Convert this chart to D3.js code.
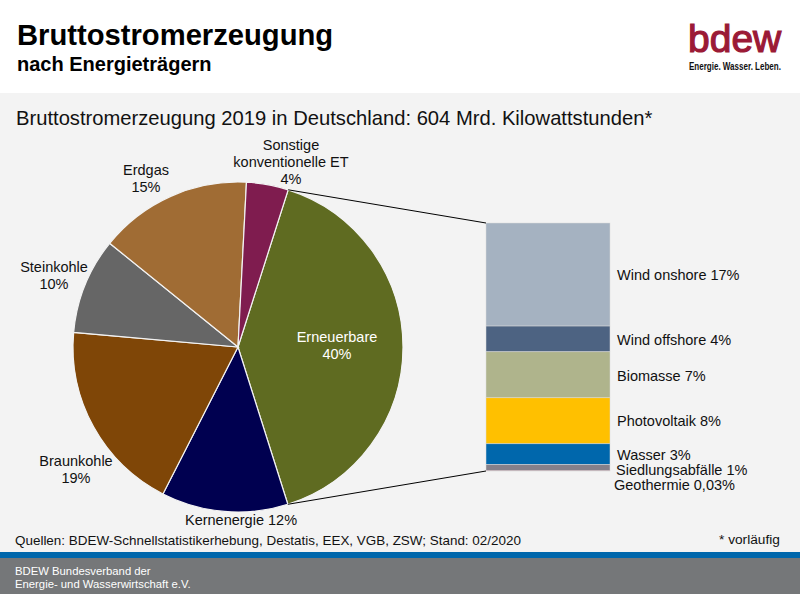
<!DOCTYPE html>
<html>
<head>
<meta charset="utf-8">
<script src="https://d3js.org/d3.v7.min.js"></script>
<style>
html, body { margin: 0; padding: 0; background: #fff; }
svg { display: block; }
text { font-family: "Liberation Sans", Arial, sans-serif; fill: #111; }
</style>
</head>
<body>
<svg id="chart" width="800" height="594"></svg>
<script>
// pie
var pieNames = ["Erneuerbare", "Kernenergie", "Braunkohle", "Steinkohle", "Erdgas", "Sonstige"];
var pieValues = [40.2, 12.4, 18.9, 9.4, 15.0, 4.1];
var pieColors = ["#5f6b21", "#000050", "#7f4607", "#666666", "#a06c34", "#7f1c4f"];
var pieLabels = [
	["Erneuerbare", "40%"],
	["Kernenergie 12%"],
	["Braunkohle", "19%"],
	["Steinkohle", "10%"],
	["Erdgas", "15%"],
	["Sonstige", "konventionelle ET", "4%"]
];
var pieLabelPos = [[337, 342], [241, 525], [76, 466], [54, 272], [146, 175], [291, 150]];

// stacked column, top to bottom
var stackNames = ["Wind onshore 17%", "Wind offshore 4%", "Biomasse 7%", "Photovoltaik 8%", "Wasser 3%", "Siedlungsabfälle 1%", "Geothermie 0,03%"];
var stackValues = [16.8, 4.2, 7.5, 7.5, 3.4, 1.0, 0.03];
var stackColors = ["#a5b2c1", "#4d6382", "#afb48c", "#ffc000", "#0067ac", "#85808a", "#b5476b"];
var stackLabelPos = [[617, 280], [617, 345], [617, 381], [617, 426], [617, 460], [616, 475], [614, 490]];

var svg = d3.select("#chart");

// background bands
svg.append("rect").attr("x", 0).attr("y", 93).attr("width", 800).attr("height", 459).attr("fill", "#f3f3f3");
svg.append("rect").attr("x", 0).attr("y", 552).attr("width", 800).attr("height", 6).attr("fill", "#0067ac");
svg.append("rect").attr("x", 0).attr("y", 558).attr("width", 800).attr("height", 36).attr("fill", "#757779");

// headings
svg.append("text").attr("x", 17).attr("y", 45).attr("font-size", 29.2).attr("font-weight", "bold").style("fill", "#000").text("Bruttostromerzeugung");
svg.append("text").attr("x", 17).attr("y", 71).attr("font-size", 20).attr("font-weight", "bold").style("fill", "#000").text("nach Energieträgern");
svg.append("text").attr("x", 16).attr("y", 124.5).attr("font-size", 20.2).text("Bruttostromerzeugung 2019 in Deutschland: 604 Mrd. Kilowattstunden*");

// logo
svg.append("text").attr("x", 688).attr("y", 52).attr("font-size", 39)
	.style("fill", "#9b1a36").style("stroke", "#9b1a36").style("stroke-width", 1.2).text("bdew");
svg.append("text").attr("transform", "translate(689,70) scale(0.765,1)").attr("font-size", 10.5).attr("font-weight", "bold")
	.text("Energie. Wasser. Leben.");

// pie chart
var cx = 238, cy = 347, radius = 165;
var startAngle = 17.7 * Math.PI / 180;
var pie = d3.pie().sort(null).startAngle(startAngle).endAngle(startAngle + 2 * Math.PI);
var arc = d3.arc().innerRadius(0).outerRadius(radius);
var arcs = pie(pieValues);

var pieG = svg.append("g").attr("transform", "translate(" + cx + "," + cy + ")");
pieG.selectAll("path").data(arcs).enter().append("path")
	.attr("d", arc)
	.attr("fill", function(d, i) { return pieColors[i]; })
	.attr("stroke", "#f3f3f3")
	.attr("stroke-width", 1.2);

// stack
var stackX = 486, stackW = 124;
var total = d3.sum(stackValues);
var y = d3.scaleLinear().domain([0, total]).range([223, 471]);
var offsets = d3.cumsum([0].concat(stackValues));

svg.append("g").selectAll("rect").data(stackValues).enter().append("rect")
	.attr("x", stackX)
	.attr("width", stackW)
	.attr("y", function(d, i) { return y(offsets[i]); })
	.attr("height", function(d) { return y(d) - y(0); })
	.attr("fill", function(d, i) { return stackColors[i]; })
	.attr("stroke", "#d9d9d9")
	.attr("stroke-width", 0.5);

// connector lines from the renewable slice to the stack
var a0 = arcs[0].startAngle, a1 = arcs[0].endAngle;
svg.append("line").attr("x1", cx + radius * Math.sin(a0)).attr("y1", cy - radius * Math.cos(a0))
	.attr("x2", stackX).attr("y2", y(0)).attr("stroke", "#000").attr("stroke-width", 1);
svg.append("line").attr("x1", cx + radius * Math.sin(a1)).attr("y1", cy - radius * Math.cos(a1))
	.attr("x2", stackX).attr("y2", y(total)).attr("stroke", "#000").attr("stroke-width", 1);

// pie labels
pieLabels.forEach(function(lines, i) {
	var t = svg.append("text")
		.attr("x", pieLabelPos[i][0])
		.attr("y", pieLabelPos[i][1])
		.attr("text-anchor", "middle")
		.attr("font-size", 14.5);
	if (i == 0) t.style("fill", "#fff");
	lines.forEach(function(line, j) {
		t.append("tspan").attr("x", pieLabelPos[i][0]).attr("dy", j == 0 ? 0 : 16.8).text(line);
	});
});

// stack labels
svg.append("g").selectAll("text").data(stackNames).enter().append("text")
	.attr("x", function(d, i) { return stackLabelPos[i][0]; })
	.attr("y", function(d, i) { return stackLabelPos[i][1]; })
	.attr("font-size", 14.5)
	.text(function(d) { return d; });

// footer
svg.append("text").attr("x", 15).attr("y", 545).attr("font-size", 13.45).text("Quellen: BDEW-Schnellstatistikerhebung, Destatis, EEX, VGB, ZSW; Stand: 02/2020");
svg.append("text").attr("x", 719).attr("y", 544).attr("font-size", 13.7).text("* vorläufig");
svg.append("text").attr("x", 15).attr("y", 575).attr("font-size", 11.3).style("fill", "#fff").text("BDEW Bundesverband der");
svg.append("text").attr("x", 15).attr("y", 588).attr("font-size", 11.3).style("fill", "#fff").text("Energie- und Wasserwirtschaft e.V.");
</script>
</body>
</html>
